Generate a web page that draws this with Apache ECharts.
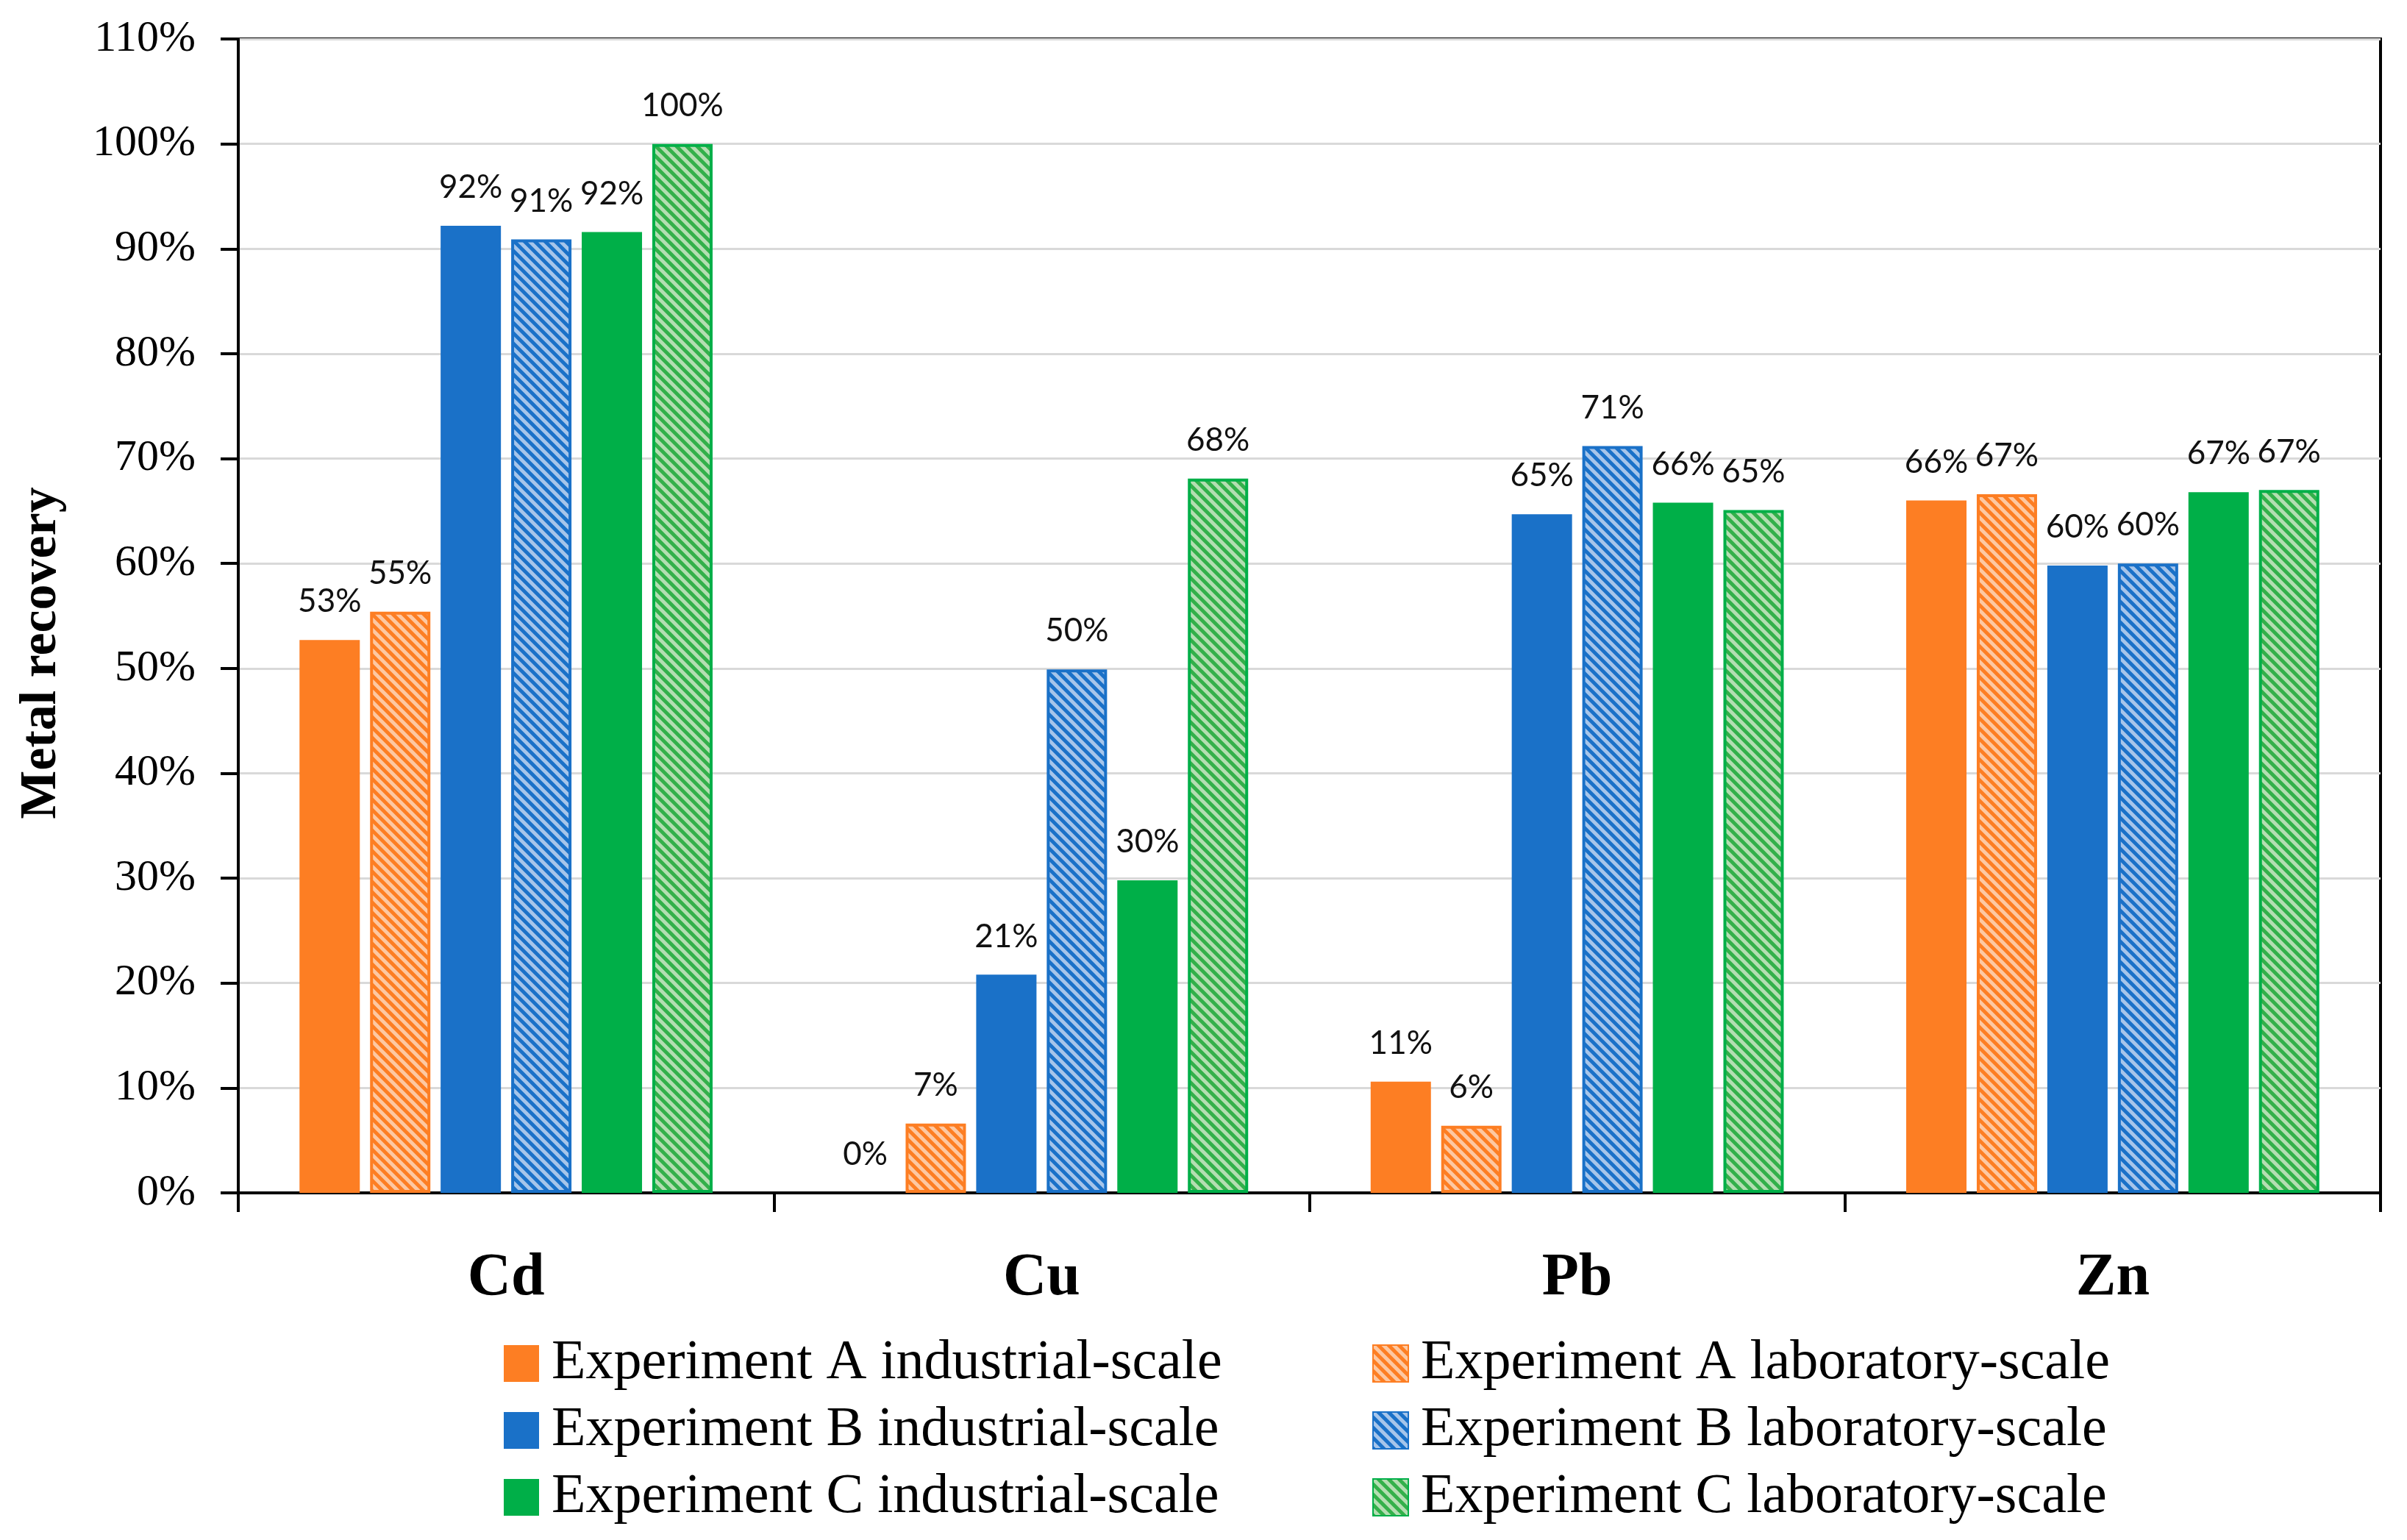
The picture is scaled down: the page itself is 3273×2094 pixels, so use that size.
<!DOCTYPE html>
<html>
<head>
<meta charset="utf-8">
<script src="https://cdn.jsdelivr.net/npm/echarts@6/dist/echarts.min.js"></script>
<style>
html,body{margin:0;padding:0;background:#fff;}
#chart{width:3273px;height:2094px;}
</style>
</head>
<body>
<div id="chart"></div>
<script>
// ---- data ----
const categories = ['Cd', 'Cu', 'Pb', 'Zn'];
const seriesNames = [
  'Experiment A industrial-scale',
  'Experiment A laboratory-scale',
  'Experiment B industrial-scale',
  'Experiment B laboratory-scale',
  'Experiment C industrial-scale',
  'Experiment C laboratory-scale'
];
const expAIndustrial = [52.7, 0.0, 10.6, 66.0];
const expALaboratory = [55.4, 6.6, 6.4, 66.6];
const expBIndustrial = [92.2, 20.8, 64.7, 59.8];
const expBLaboratory = [90.9, 49.9, 71.2, 60.0];
const expCIndustrial = [91.6, 29.8, 65.8, 66.8];
const expCLaboratory = [100.0, 68.1, 65.1, 67.0];
const yAxisMin = 0;
const yAxisMax = 110;
const yAxisStep = 10;

// ---- styling ----
const ORANGE = '#FD7E23', ORANGE_L = '#FDC8A2';
const BLUE = '#1A71C8', BLUE_L = '#A6C5EA';
const GREEN = '#00AF48', GREEN_HB = '#33B04A', GREEN_L = '#B4DEB2';

function makePattern(bg, fg) {
  const c = document.createElement('canvas');
  const s = 14;
  c.width = s; c.height = s;
  const ctx = c.getContext('2d');
  ctx.fillStyle = bg;
  ctx.fillRect(0, 0, s, s);
  ctx.strokeStyle = fg;
  ctx.lineWidth = 5;
  ctx.beginPath();
  for (const k of [-s, 0, s]) {
    ctx.moveTo(k - 3, -3);
    ctx.lineTo(k + s + 3, s + 3);
  }
  ctx.stroke();
  return { image: c, repeat: 'repeat' };
}

const labelStyle = {
  show: true,
  position: 'top',
  distance: 30,
  fontFamily: 'Lato',
  fontSize: 44,
  color: '#111',
  formatter: p => Math.round(p.value) + '%'
};

function solid(name, data, color) {
  return {
    name, type: 'bar', data,
    barWidth: 82, barGap: '17%',
    itemStyle: { color },
    label: labelStyle
  };
}
function hatched(name, data, bg, fg, border) {
  return {
    name, type: 'bar', data,
    barWidth: 82, barGap: '17%',
    itemStyle: { color: makePattern(bg, fg), borderColor: border, borderWidth: 4 },
    label: labelStyle
  };
}

const chart = echarts.init(document.getElementById('chart'), null, { renderer: 'canvas' });
const serif = 'Liberation Serif';

const legendCommon = {
  orient: 'vertical', top: 1816, padding: 0,
  itemWidth: 48, itemHeight: 50, itemGap: 15, icon: 'rect',
  height: 260,
  textStyle: { fontFamily: serif, fontSize: 76, lineHeight: 74, color: '#000', padding: [0, 0, 0, 12] }
};

chart.setOption({
  backgroundColor: '#fff',
  animation: false,
  grid: {
    left: 324, right: 36, top: 53, bottom: 472,
    show: true, borderColor: '#000', borderWidth: 4, backgroundColor: 'transparent'
  },
  legend: [
    Object.assign({}, legendCommon, {
      data: [seriesNames[0], seriesNames[2], seriesNames[4]],
      left: 685
    }),
    Object.assign({}, legendCommon, {
      data: [seriesNames[1], seriesNames[3], seriesNames[5]],
      left: 1866
    })
  ],
  xAxis: {
    type: 'category',
    data: categories,
    axisLine: { lineStyle: { color: '#000', width: 4 } },
    axisTick: { show: true, length: 26, lineStyle: { color: '#000', width: 4 } },
    axisLabel: { fontFamily: serif, fontWeight: 'bold', fontSize: 82, color: '#000', margin: 76 }
  },
  yAxis: {
    type: 'value',
    min: yAxisMin, max: yAxisMax, interval: yAxisStep,
    axisLine: { show: true, lineStyle: { color: '#000', width: 4 } },
    axisTick: { show: true, length: 24, lineStyle: { color: '#000', width: 4 } },
    axisLabel: { fontFamily: serif, fontSize: 60, color: '#000', margin: 58, formatter: '{value}%' },
    splitLine: { show: true, lineStyle: { color: '#D9D9D9', width: 3 } }
  },
  graphic: [{
    type: 'text',
    x: 57, y: 888,
    rotation: Math.PI / 2,
    style: {
      text: 'Metal recovery',
      font: 'bold 70px "Liberation Serif"',
      fill: '#000',
      textAlign: 'center',
      textVerticalAlign: 'middle'
    }
  }],
  series: [
    solid(seriesNames[0], expAIndustrial, ORANGE),
    hatched(seriesNames[1], expALaboratory, ORANGE, ORANGE_L, ORANGE),
    solid(seriesNames[2], expBIndustrial, BLUE),
    hatched(seriesNames[3], expBLaboratory, BLUE, BLUE_L, BLUE),
    solid(seriesNames[4], expCIndustrial, GREEN),
    hatched(seriesNames[5], expCLaboratory, GREEN_HB, GREEN_L, GREEN)
  ]
});
</script>
</body>
</html>
